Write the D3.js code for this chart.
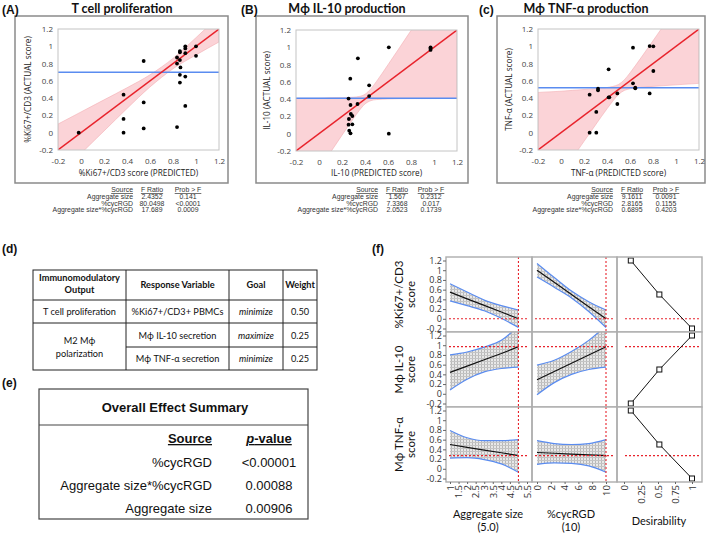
<!DOCTYPE html>
<html><head><meta charset="utf-8">
<script src="https://cdn.jsdelivr.net/npm/d3@7"></script>
<style>body{margin:0;background:#fff}svg{display:block}</style>
</head><body>
<script>
// ---------------- DATA ----------------
const scatterTicks = [-0.2, 0, 0.2, 0.4, 0.6, 0.8, 1, 1.2];

const tcellPred   = [-0.02, 0.37, 0.37, 0.37, 0.545, 0.545, 0.545, 0.835, 0.835, 0.835, 0.86, 0.86, 0.86, 0.865, 0.86, 0.86, 0.907, 0.907, 0.907, 0.907, 0.907, 1.0, 1.0];
const tcellActual = [0.0, 0.44, 0.16, 0.0, 0.83, 0.35, 0.05, 0.87, 0.80, 0.065, 0.945, 0.93, 0.84, 0.755, 0.67, 0.58, 1.0, 0.975, 0.92, 0.65, 0.31, 1.0, 0.89];
const tcellMean = 0.70;
const tcellBandX  = [-0.2, 0, 0.2, 0.4, 0.6, 0.7, 0.8, 1.0, 1.2];
const tcellBandLo = [-0.50, -0.24, 0.02, 0.28, 0.53, 0.64, 0.74, 0.90, 1.05];
const tcellBandHi = [0.10, 0.24, 0.38, 0.52, 0.67, 0.76, 0.86, 1.10, 1.35];

const il10Pred   = [0.338, 0.272, 0.436, 0.436, 0.257, 0.335, 0.274, 0.277, 0.29, 0.26, 0.29, 0.257, 0.263, 0.274, 0.607, 0.607, 0.97, 0.97, 0.97];
const il10Actual = [0.872, 0.637, 0.56, 0.436, 0.406, 0.344, 0.332, 0.228, 0.205, 0.17, 0.109, 0.105, 0.035, 0.004, 1.0, 0.0, 1.0, 0.985, 0.97];
const il10Mean = 0.41;
const il10BandX  = [-0.2, 0, 0.1, 0.2, 0.3, 0.35, 0.4, 0.45, 0.5, 0.6, 0.7, 0.8, 1.0, 1.2];
const il10BandLo = [-0.81, -0.41, -0.215, -0.017, 0.177, 0.269, 0.344, 0.382, 0.395, 0.402, 0.405, 0.406, 0.407, 0.408];
const il10BandHi = [0.41, 0.41, 0.415, 0.417, 0.423, 0.431, 0.456, 0.518, 0.605, 0.798, 0.995, 1.194, 1.593, 1.99];

const tnfPred   = [0.626, 0.771, 0.803, 0.803, 0.414, 0.626, 0.646, 0.646, 0.322, 0.322, 0.249, 0.414, 0.42, 0.49, 0.771, 0.49, 0.307, 0.249, 0.307];
const tnfActual = [0.984, 1.003, 1.0, 0.714, 0.733, 0.571, 0.521, 0.514, 0.51, 0.49, 0.44, 0.41, 0.41, 0.455, 0.455, 0.332, 0.24, 0.0, 0.0];
const tnfMean = 0.52;
const tnfBandX  = [-0.2, 0, 0.1, 0.2, 0.3, 0.4, 0.45, 0.5, 0.55, 0.6, 0.7, 0.8, 1.0, 1.2];
const tnfBandLo = [-0.87, -0.48, -0.29, -0.10, 0.09, 0.277, 0.365, 0.442, 0.489, 0.508, 0.525, 0.536, 0.554, 0.571];
const tnfBandHi = [0.466, 0.48, 0.49, 0.50, 0.51, 0.523, 0.535, 0.558, 0.611, 0.692, 0.875, 1.064, 1.446, 1.83];

const statHeaders = ["Source", "F Ratio", "Prob > F"];
const statSources = ["Aggregate size", "%cycRGD", "Aggregate size*%cycRGD"];
const tcellF = ["2.4352", "80.0498", "17.689"];
const tcellP = ["0.141", "<0.0001", "0.0009"];
const il10F  = ["1.567", "7.3368", "2.0523"];
const il10P  = ["0.2312", "0.017", "0.1739"];
const tnfF   = ["9.1611", "2.8165", "0.6895"];
const tnfP   = ["0.0091", "0.1155", "0.4203"];

// Table d
const tableDHeader = [["Immunomodulatory", "Output"], ["Response Variable"], ["Goal"], ["Weight"]];
const tableDOutputs = ["T cell proliferation", ["M2 M\u03d5", "polarization"]];
const tableDResponses = ["%Ki67+/CD3+ PBMCs", "M\u03d5 IL-10 secretion", "M\u03d5 TNF-\u03b1 secretion"];
const tableDGoals = ["minimize", "maximize", "minimize"];
const tableDWeights = ["0.50", "0.25", "0.25"];

// Table e
const effectSources = ["%cycRGD", "Aggregate size*%cycRGD", "Aggregate size"];
const effectPvalues = ["<0.00001", "0.00088", "0.00906"];

// Profiler (f)
const profYTicks = [-0.2, 0, 0.2, 0.4, 0.6, 0.8, 1, 1.2];
const aggTicks = [1, 1.5, 2, 2.5, 3, 3.5, 4, 4.5, 5, 5.5];
const rgdTicks = [0, 2, 4, 6, 8, 10];
const desTicks = [0, 0.25, 0.5, 0.75, 1];
const aggX = [1, 2, 3, 4, 5];
const rgdX = [0, 2.5, 5, 7.5, 10];
const aggCurrent = 5, rgdCurrent = 10;
const profRowLabels = [["%Ki67+/CD3", "score"], ["M\u03d5 IL-10", "score"], ["M\u03d5 TNF-\u03b1", "score"]];
const profCurrentY = [0.0, 0.97, 0.27];
// Ki67 row
const ki67AggLine = [0.55, 0.41, 0.275, 0.14, 0.0];
const ki67AggHi   = [0.72, 0.55, 0.385, 0.27, 0.18];
const ki67AggLo   = [0.37, 0.27, 0.165, 0.01, -0.18];
const ki67RgdLine = [1.0, 0.75, 0.5, 0.25, 0.0];
const ki67RgdHi   = [1.14, 0.85, 0.57, 0.35, 0.18];
const ki67RgdLo   = [0.86, 0.65, 0.43, 0.15, -0.18];
// IL-10 row
const il10AggLine = [0.44, 0.57, 0.70, 0.83, 0.97];
const il10AggHi   = [0.80, 0.86, 0.96, 1.10, 1.40];
const il10AggLo   = [0.08, 0.30, 0.45, 0.52, 0.55];
const il10RgdLine = [0.29, 0.46, 0.63, 0.80, 0.97];
const il10RgdHi   = [0.59, 0.69, 0.87, 1.10, 1.40];
const il10RgdLo   = [-0.02, 0.23, 0.40, 0.50, 0.55];
// TNF row
const tnfAggLine = [0.50, 0.44, 0.385, 0.33, 0.27];
const tnfAggHi   = [0.79, 0.64, 0.58, 0.58, 0.60];
const tnfAggLo   = [0.22, 0.23, 0.19, 0.10, -0.07];
const tnfRgdLine = [0.335, 0.32, 0.30, 0.285, 0.27];
const tnfRgdHi   = [0.58, 0.52, 0.50, 0.52, 0.60];
const tnfRgdLo   = [0.09, 0.12, 0.11, 0.06, -0.07];
// desirability functions
const desY = [1.2, 0.5, -0.2];
const ki67Des = [0.1, 0.52, 1.0];
const il10Des = [1.0, 0.52, 0.1];
const tnfDes  = [0.1, 0.52, 1.0];

// ---------------- DRAW ----------------
const W = 709, H = 535;
const svg = d3.select("body").append("svg").attr("width", W).attr("height", H)
  .style("font-family", "'Liberation Sans', Arial, sans-serif");
const defs = svg.append("defs");
const RED = "#e8232c", BLUE = "#5a8cf0", PINK = "#fbd3d7";

const pat = defs.append("pattern").attr("id", "hatch").attr("patternUnits", "userSpaceOnUse")
  .attr("width", 3).attr("height", 3);
pat.append("rect").attr("width", 3).attr("height", 3).attr("fill", "#e8e8e8");
pat.append("rect").attr("x", 1).attr("y", 0).attr("width", 1).attr("height", 3).attr("fill", "#b8b8b8");
pat.append("rect").attr("x", 0).attr("y", 1).attr("width", 3).attr("height", 1).attr("fill", "#c4c4c4");

let clipN = 0;
function clipRect(x0, y0, x1, y1) {
  const id = "clip" + (clipN++);
  defs.append("clipPath").attr("id", id).append("rect")
    .attr("x", x0).attr("y", y0).attr("width", x1 - x0).attr("height", y1 - y0);
  return "url(#" + id + ")";
}

function panelLabel(txt, x, y) {
  svg.append("text").attr("x", x).attr("y", y).text(txt)
    .attr("font-size", 12).attr("font-weight", "bold").attr("fill", "#111");
}

function scatter(cfg) {
  const g = svg.append("g");
  const [bx0, by0, bx1, by1] = cfg.box;
  const [px0, py0, px1, py1] = cfg.plot;
  panelLabel(cfg.label, cfg.labelX, 14);
  g.append("text").attr("x", cfg.titleX).attr("y", 13).attr("text-anchor", "middle")
    .attr("font-family", "Lato, sans-serif").attr("font-weight", "bold").attr("font-size", 12.5)
    .attr("fill", "#111").text(cfg.title);
  g.append("rect").attr("x", bx0).attr("y", by0).attr("width", bx1 - bx0).attr("height", by1 - by0)
    .attr("fill", "#fff").attr("stroke", "#8a8a8a").attr("stroke-width", 1.5);
  const x = d3.scaleLinear().domain([-0.2, 1.2]).range([px0, px1]);
  const y = d3.scaleLinear().domain([-0.2, 1.2]).range([py1, py0]);
  const inner = g.append("g").attr("clip-path", clipRect(px0, py0, px1, py1));
  const band = cfg.bandX.map((v, i) => ({x: v, lo: cfg.bandLo[i], hi: cfg.bandHi[i]}));
  inner.append("path").datum(band)
    .attr("d", d3.area().x(d => x(d.x)).y0(d => y(d.lo)).y1(d => y(d.hi)).curve(d3.curveMonotoneX))
    .attr("fill", PINK).attr("stroke", "#f4aeb4").attr("stroke-width", 0.6);
  inner.append("line").attr("x1", px0).attr("x2", px1).attr("y1", y(cfg.mean)).attr("y2", y(cfg.mean))
    .attr("stroke", BLUE).attr("stroke-width", 1.6);
  const dom = x.domain();
  inner.append("path").datum(dom)
    .attr("d", d3.line().x(d => x(d)).y(d => y(d)))
    .attr("stroke", RED).attr("stroke-width", 1.4).attr("fill", "none");
  inner.selectAll("circle").data(cfg.pred).join("circle")
    .attr("cx", d => x(d)).attr("cy", (d, i) => y(cfg.actual[i])).attr("r", 1.9).attr("fill", "#000");
  g.append("rect").attr("x", px0).attr("y", py0).attr("width", px1 - px0).attr("height", py1 - py0)
    .attr("fill", "none").attr("stroke", "#c4c4c4").attr("stroke-width", 1);
  const fmt = d => String(+d.toFixed(1));
  const xa = g.append("g").attr("transform", `translate(0,${py1})`)
    .call(d3.axisBottom(x).tickValues(scatterTicks).tickSize(0).tickPadding(8).tickFormat(fmt));
  const ya = g.append("g").attr("transform", `translate(${px0},0)`)
    .call(d3.axisLeft(y).tickValues(scatterTicks).tickSize(0).tickPadding(5).tickFormat(fmt));
  [xa, ya].forEach(a => {
    a.select(".domain").remove();
    a.selectAll("text").attr("font-family", "'Open Sans', sans-serif").attr("font-size", 8).attr("fill", "#444");
  });
  g.append("text").attr("x", (px0 + px1) / 2).attr("y", 176).attr("text-anchor", "middle")
    .attr("font-family", "'Open Sans', sans-serif").attr("font-size", 8.2).attr("fill", "#222").text(cfg.xTitle);
  g.append("text").attr("transform", `translate(${cfg.yTitleX},${(py0 + py1) / 2}) rotate(-90)`)
    .attr("text-anchor", "middle").attr("dy", "0.35em")
    .attr("font-family", "'Open Sans', sans-serif").attr("font-size", 8.2).attr("fill", "#222").text(cfg.yTitle);
  // stats
  const st = g.append("g").attr("font-size", 6.9).attr("fill", "#333");
  const cols = cfg.statCols;
  st.append("text").attr("x", cols[0]).attr("y", 192).attr("text-anchor", "end")
    .attr("text-decoration", "underline").text(statHeaders[0]);
  st.append("text").attr("x", cols[1]).attr("y", 192).attr("text-anchor", "middle")
    .attr("text-decoration", "underline").text(statHeaders[1]);
  st.append("text").attr("x", cols[2]).attr("y", 192).attr("text-anchor", "middle")
    .attr("text-decoration", "underline").text(statHeaders[2]);
  statSources.forEach((s, i) => {
    const yy = 199 + i * 6.6;
    st.append("text").attr("x", cols[0]).attr("y", yy).attr("text-anchor", "end").text(s);
    st.append("text").attr("x", cols[1]).attr("y", yy).attr("text-anchor", "middle").text(cfg.F[i]);
    st.append("text").attr("x", cols[2]).attr("y", yy).attr("text-anchor", "middle").text(cfg.P[i]);
  });
}

scatter({label: "(A)", labelX: 2, title: "T cell proliferation", titleX: 122,
  box: [15, 16, 228, 183], plot: [58, 29, 219, 150],
  pred: tcellPred, actual: tcellActual, mean: tcellMean,
  bandX: tcellBandX, bandLo: tcellBandLo, bandHi: tcellBandHi,
  xTitle: "%Ki67+/CD3 score (PREDICTED)", yTitle: "%Ki67+/CD3 (ACTUAL score)", yTitleX: 28,
  statCols: [133, 152, 188], F: tcellF, P: tcellP});
scatter({label: "(B)", labelX: 241, title: "M\u03d5 IL-10 production", titleX: 347,
  box: [256, 16, 468, 183], plot: [296, 30, 457, 151],
  pred: il10Pred, actual: il10Actual, mean: il10Mean,
  bandX: il10BandX, bandLo: il10BandLo, bandHi: il10BandHi,
  xTitle: "IL-10 (PREDICTED score)", yTitle: "IL-10 (ACTUAL score)", yTitleX: 267,
  statCols: [378, 397, 431], F: il10F, P: il10P});
scatter({label: "(c)", labelX: 479, title: "M\u03d5 TNF-\u03b1 production", titleX: 586,
  box: [497, 16, 705, 183], plot: [538, 29, 699, 150],
  pred: tnfPred, actual: tnfActual, mean: tnfMean,
  bandX: tnfBandX, bandLo: tnfBandLo, bandHi: tnfBandHi,
  xTitle: "TNF-\u03b1 (PREDICTED score)", yTitle: "TNF-\u03b1 (ACTUAL score)", yTitleX: 509,
  statCols: [613, 632, 666], F: tnfF, P: tnfP});

// ---------- Table d ----------
panelLabel("(d)", 2, 253);
{
  const g = svg.append("g").attr("font-family", "Lato, sans-serif").attr("font-size", 9.2).attr("fill", "#111");
  const xs = [33, 126, 229, 283, 317];
  const ys = [270, 300, 323, 347, 370];
  const line = (x1, y1, x2, y2) => g.append("line").attr("x1", x1).attr("y1", y1).attr("x2", x2).attr("y2", y2)
    .attr("stroke", "#222").attr("stroke-width", 1);
  g.append("rect").attr("x", xs[0]).attr("y", ys[0]).attr("width", xs[4] - xs[0]).attr("height", ys[4] - ys[0])
    .attr("fill", "none").attr("stroke", "#222").attr("stroke-width", 1);
  [1, 2, 3].forEach(i => line(xs[i], ys[0], xs[i], ys[4]));
  line(xs[0], ys[1], xs[4], ys[1]);
  line(xs[0], ys[2], xs[4], ys[2]);
  line(xs[1], ys[3], xs[4], ys[3]);
  const cx = i => (xs[i] + xs[i + 1]) / 2;
  const t = (x, y, s, opt = {}) => g.append("text").attr("x", x).attr("y", y).attr("text-anchor", "middle")
    .attr("font-weight", opt.bold ? "bold" : null).attr("font-style", opt.italic ? "italic" : null).text(s);
  t(cx(0), 281, tableDHeader[0][0], {bold: 1});
  t(cx(0), 293, tableDHeader[0][1], {bold: 1});
  t(cx(1), 287.5, tableDHeader[1][0], {bold: 1});
  t(cx(2), 287.5, tableDHeader[2][0], {bold: 1});
  t(cx(3), 287.5, tableDHeader[3][0], {bold: 1});
  const rowY = [315, 338.5, 362];
  t(cx(0), rowY[0], tableDOutputs[0]);
  t(cx(0), 344, tableDOutputs[1][0]);
  t(cx(0), 356.5, tableDOutputs[1][1]);
  tableDResponses.forEach((r, i) => {
    t(cx(1), rowY[i], r);
    t(cx(2), rowY[i], tableDGoals[i], {italic: 1});
    t(cx(3), rowY[i], tableDWeights[i]);
  });
}

// ---------- Table e ----------
panelLabel("(e)", 2, 387);
{
  const g = svg.append("g").attr("font-size", 13).attr("fill", "#111");
  g.append("rect").attr("x", 39).attr("y", 389).attr("width", 269).attr("height", 130)
    .attr("fill", "none").attr("stroke", "#444").attr("stroke-width", 1.2);
  g.append("line").attr("x1", 39).attr("x2", 308).attr("y1", 425).attr("y2", 425)
    .attr("stroke", "#444").attr("stroke-width", 1.2);
  g.append("text").attr("x", 175).attr("y", 412).attr("text-anchor", "middle").attr("font-weight", "bold")
    .text("Overall Effect Summary");
  g.append("text").attr("x", 212).attr("y", 443).attr("text-anchor", "end").attr("font-weight", "bold")
    .attr("text-decoration", "underline").text("Source");
  const pv = g.append("text").attr("x", 269).attr("y", 443).attr("text-anchor", "middle").attr("font-weight", "bold")
    .attr("text-decoration", "underline");
  pv.append("tspan").attr("font-style", "italic").text("p");
  pv.append("tspan").text("-value");
  effectSources.forEach((s, i) => {
    const yy = 466.5 + i * 23;
    g.append("text").attr("x", 212).attr("y", yy).attr("text-anchor", "end").text(s);
    g.append("text").attr("x", 269).attr("y", yy).attr("text-anchor", "middle").text(effectPvalues[i]);
  });
}

// ---------- Profiler f ----------
panelLabel("(f)", 372, 253);
{
  const g = svg.append("g").attr("font-family", "Lato, sans-serif");
  const colB = [[446, 532], [532, 617], [617, 702]];
  const rowB = [[257, 332], [332, 407], [407, 482]];
  const xAgg = d3.scaleLinear().domain([1, 5.5]).range([450, 527]);
  const xRgd = d3.scaleLinear().domain([0, 10]).range([537, 606]);
  const xDes = d3.scaleLinear().domain([0, 1]).range([624, 692]);
  const yRow = r => d3.scaleLinear().domain([-0.2, 1.2]).range([rowB[r][1] - 3.5, rowB[r][0] + 3.5]);
  const rows = [
    {agg: [ki67AggLine, ki67AggLo, ki67AggHi], rgd: [ki67RgdLine, ki67RgdLo, ki67RgdHi], des: ki67Des},
    {agg: [il10AggLine, il10AggLo, il10AggHi], rgd: [il10RgdLine, il10RgdLo, il10RgdHi], des: il10Des},
    {agg: [tnfAggLine, tnfAggLo, tnfAggHi], rgd: [tnfRgdLine, tnfRgdLo, tnfRgdHi], des: tnfDes}
  ];
  const fmt = d => String(+d.toFixed(2));
  rows.forEach((row, r) => {
    const y = yRow(r);
    const [ry0, ry1] = rowB[r];
    colB.forEach(([cx0, cx1]) => {
      g.append("rect").attr("x", cx0).attr("y", ry0).attr("width", cx1 - cx0).attr("height", ry1 - ry0)
        .attr("fill", "#fff");
    });
    const cells = [[xAgg, aggX, row.agg, aggCurrent], [xRgd, rgdX, row.rgd, rgdCurrent]];
    cells.forEach(([xs, xv, [ln, lo, hi], cur], c) => {
      const [cx0, cx1] = colB[c];
      const cg = g.append("g").attr("clip-path", clipRect(cx0, ry0, cx1, ry1));
      const band = xv.map((v, i) => ({x: v, lo: lo[i], hi: hi[i], m: ln[i]}));
      cg.append("path").datum(band)
        .attr("d", d3.area().x(d => xs(d.x)).y0(d => y(d.lo)).y1(d => y(d.hi)).curve(d3.curveMonotoneX))
        .attr("fill", "url(#hatch)");
      ["lo", "hi"].forEach(k => cg.append("path").datum(band)
        .attr("d", d3.line().x(d => xs(d.x)).y(d => y(d[k])).curve(d3.curveMonotoneX))
        .attr("fill", "none").attr("stroke", BLUE).attr("stroke-width", 1.2));
      cg.append("path").datum(band)
        .attr("d", d3.line().x(d => xs(d.x)).y(d => y(d.m)))
        .attr("fill", "none").attr("stroke", "#111").attr("stroke-width", 1.2);
      cg.append("line").attr("x1", cx0 + 3).attr("x2", cx1 - 3).attr("y1", y(profCurrentY[r])).attr("y2", y(profCurrentY[r]))
        .attr("stroke", RED).attr("stroke-width", 1.1).attr("stroke-dasharray", "2,2");
      cg.append("line").attr("x1", xs(cur)).attr("x2", xs(cur)).attr("y1", ry0).attr("y2", ry1)
        .attr("stroke", RED).attr("stroke-width", 1.1).attr("stroke-dasharray", "2,2");
    });
    const [dx0, dx1] = colB[2];
    const dg = g.append("g").attr("clip-path", clipRect(dx0, ry0, dx1, ry1));
    dg.append("line").attr("x1", dx0 + 8).attr("x2", dx1 - 3).attr("y1", y(profCurrentY[r])).attr("y2", y(profCurrentY[r]))
      .attr("stroke", RED).attr("stroke-width", 1.1).attr("stroke-dasharray", "2,2");
    const dpts = desY.map((v, i) => ({d: row.des[i], v}));
    dg.append("path").datum(dpts).attr("d", d3.line().x(d => xDes(d.d)).y(d => y(d.v)))
      .attr("fill", "none").attr("stroke", "#111").attr("stroke-width", 1);
    g.selectAll(null).data(dpts).join("rect")
      .attr("x", d => xDes(d.d) - 2.5).attr("y", d => y(d.v) - 2.5).attr("width", 5).attr("height", 5)
      .attr("fill", "#fff").attr("stroke", "#111").attr("stroke-width", 1);
    colB.forEach(([cx0, cx1]) => {
      g.append("rect").attr("x", cx0).attr("y", ry0).attr("width", cx1 - cx0).attr("height", ry1 - ry0)
        .attr("fill", "none").attr("stroke", "#adadad").attr("stroke-width", 1.4);
    });
    const ya = g.append("g").attr("transform", `translate(${colB[0][0]},0)`)
      .call(d3.axisLeft(y).tickValues(profYTicks).tickSize(3).tickPadding(1).tickFormat(fmt));
    ya.select(".domain").remove();
    ya.selectAll("line").attr("stroke", "#666");
    ya.selectAll("text").attr("font-family", "'Open Sans', sans-serif").attr("font-size", 9).attr("fill", "#333");
    const my = (ry0 + ry1) / 2;
    profRowLabels[r].forEach((s, k) => {
      g.append("text").attr("transform", `translate(${399 + k * 12},${my}) rotate(-90)`)
        .attr("text-anchor", "middle").attr("dy", "0.35em").attr("font-size", 11.5).attr("fill", "#111").text(s);
    });
  });
  const axisB = [[xAgg, aggTicks], [xRgd, rgdTicks], [xDes, desTicks]];
  axisB.forEach(([xs, ticks]) => {
    const ax = g.append("g").attr("transform", "translate(0,482)")
      .call(d3.axisBottom(xs).tickValues(ticks).tickSize(2).tickFormat(fmt));
    ax.select(".domain").remove();
    ax.selectAll("line").attr("stroke", "#666");
    ax.selectAll("text").attr("font-family", "'Open Sans', sans-serif").attr("font-size", 9.5).attr("fill", "#333")
      .attr("transform", "rotate(-90)").attr("text-anchor", "end").attr("x", -3).attr("y", 0).attr("dy", "0.35em");
  });
  const ttl = (x, y, s) => g.append("text").attr("x", x).attr("y", y).attr("text-anchor", "middle")
    .attr("font-size", 11).attr("fill", "#111").text(s);
  ttl(488, 518, "Aggregate size");
  ttl(488, 531, "(5.0)");
  ttl(571, 518, "%cycRGD");
  ttl(571, 531, "(10)");
  ttl(659, 525, "Desirability");
}
</script>
</body></html>
